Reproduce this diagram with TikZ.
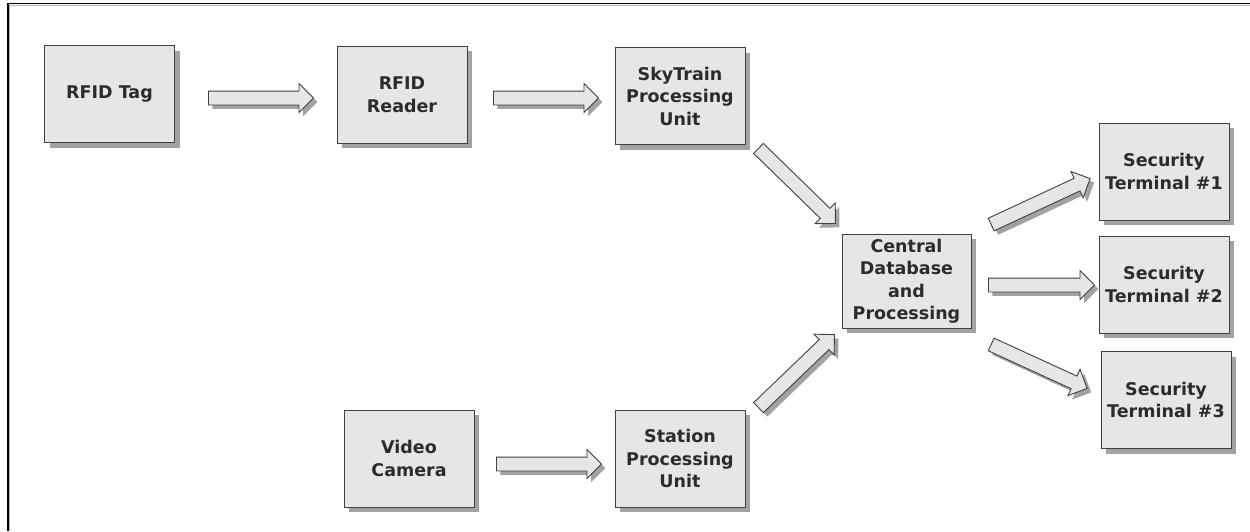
\documentclass[tikz,border=0pt]{standalone}
\usepackage{fontspec}
\setmainfont{DejaVu Sans}
\usetikzlibrary{shapes.arrows,shadows,calc}
\definecolor{boxfill}{HTML}{E6E6E6}
\definecolor{boxline}{HTML}{404040}
\definecolor{shadowgray}{HTML}{A2A2A2}
\definecolor{txt}{HTML}{2B2B2B}
\tikzset{
  blk/.style={draw=boxline, fill=boxfill, line width=1pt, minimum width=130pt, minimum height=97pt,
    text=txt, font=\bfseries\fontsize{17.5}{22.5}\selectfont, align=center, inner sep=1pt,
    drop shadow={shadow xshift=5pt, shadow yshift=-5pt, fill=shadowgray, opacity=1}},
  barrow/.style={single arrow, single arrow head extend=7.5pt, inner xsep=0pt, inner ysep=6.5pt,
    single arrow tip angle=90, draw=boxline, fill=boxfill, line width=0.9pt},
  barrowshadow/.style={barrow, draw=none, fill=shadowgray}
}
\newcommand{\blockarrow}[2]{%
  \path let \p1=($(#2)-(#1)$), \n1={veclen(\x1,\y1)} in
    ([shift={(4pt,-4pt)}]#1) -- node[barrowshadow, sloped, minimum height=\n1] {} ([shift={(4pt,-4pt)}]#2);
  \path let \p1=($(#2)-(#1)$), \n1={veclen(\x1,\y1)} in
    (#1) -- node[barrow, sloped, minimum height=\n1] {} (#2);
}
\begin{document}
\begin{tikzpicture}[x=1pt,y=-1pt]
\useasboundingbox (0,0) rectangle (1250,531);
\fill[white] (0,0) rectangle (1250,531);
\draw[line width=1.6pt, black] (8,531) -- (8,3.5) -- (1250,3.5);
\draw[line width=0.6pt, gray!60] (9.5,531) -- (9.5,5) -- (1250,5);

\node[blk] (tag) at (109.5,94) {RFID Tag};
\node[blk] (reader) at (402,94.5) {RFID\\Reader};
\node[blk] (sky) at (680,96) {SkyTrain\\Processing\\Unit};
\node[blk, minimum width=129pt, minimum height=94pt] (central) at (906.5,281) {Central\\Database\\and\\Processing};
\node[blk] (st1) at (1164,171.5) {Security\\Terminal \#1};
\node[blk] (st2) at (1164,284.5) {Security\\Terminal \#2};
\node[blk] (st3) at (1166,400) {Security\\Terminal \#3};
\node[blk] (cam) at (409,458.5) {Video\\Camera};
\node[blk] (station) at (680,458.5) {Station\\Processing\\Unit};

\coordinate (a1s) at (205,98);  \coordinate (a1e) at (310,98);
\coordinate (a2s) at (490,98);  \coordinate (a2e) at (595,98);
\coordinate (a3s) at (756,146); \coordinate (a3e) at (833,221);
\coordinate (a4s) at (493,464); \coordinate (a4e) at (598,464);
\coordinate (a5s) at (756,410); \coordinate (a5e) at (832,337);
\coordinate (a6s) at (988,226); \coordinate (a6e) at (1087,180);
\coordinate (a7s) at (985,285); \coordinate (a7e) at (1091,285);
\coordinate (a8s) at (988,343); \coordinate (a8e) at (1084,387);

\blockarrow{a1s}{a1e}
\blockarrow{a2s}{a2e}
\blockarrow{a3s}{a3e}
\blockarrow{a4s}{a4e}
\blockarrow{a5s}{a5e}
\blockarrow{a6s}{a6e}
\blockarrow{a7s}{a7e}
\blockarrow{a8s}{a8e}
\end{tikzpicture}
\end{document}
